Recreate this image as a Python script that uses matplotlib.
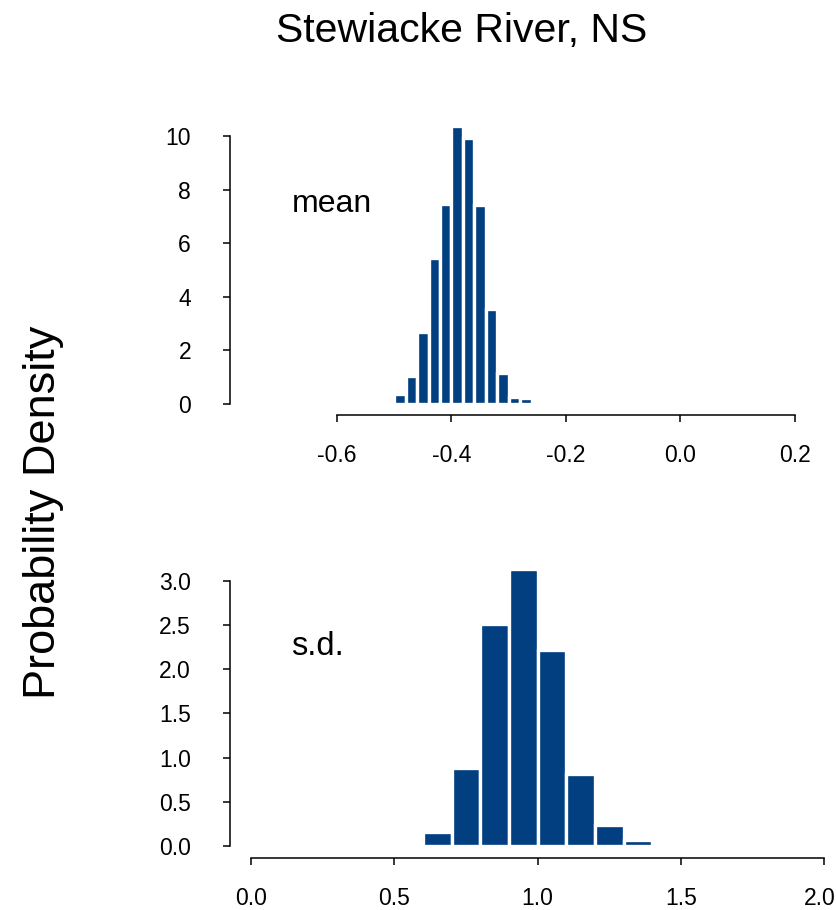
import numpy as np
import matplotlib
matplotlib.use('Agg')
import matplotlib.pyplot as plt
import matplotlib.transforms as mtransforms

plt.rcParams['font.family'] = ['Liberation Sans', 'DejaVu Sans']

# posterior density histograms
mean_bins = [-0.54, -0.52, -0.50, -0.48, -0.46, -0.44, -0.42, -0.40,
             -0.38, -0.36, -0.34, -0.32, -0.30, -0.28]
mean_dens = [0.03, 0.0, 0.37, 1.03, 2.70, 5.45, 7.47, 10.37,
             9.94, 7.43, 3.56, 1.17, 0.28, 0.22]
mean_bw = 0.02

sd_bins = [0.6, 0.7, 0.8, 0.9, 1.0, 1.1, 1.2, 1.3]
sd_dens = [0.158, 0.879, 2.507, 3.132, 2.221, 0.819, 0.237, 0.064]
sd_bw = 0.1

mean_xticks = [-0.6, -0.4, -0.2, 0.0, 0.2]
mean_yticks = [0, 2, 4, 6, 8, 10]
sd_xticks = [0.0, 0.5, 1.0, 1.5, 2.0]
sd_yticks = [0.0, 0.5, 1.0, 1.5, 2.0, 2.5, 3.0]

barcol = '#023f80'
W, H = 837, 910

fig = plt.figure(figsize=(W / 100, H / 100), dpi=100)

def px_axes(l, t, r, b):
    return fig.add_axes([l / W, 1 - b / H, (r - l) / W, (b - t) / H])

def style(ax, xb, yb, xpad):
    for s in ['top', 'right']:
        ax.spines[s].set_visible(False)
    ax.spines['left'].set_bounds(*yb)
    ax.spines['bottom'].set_bounds(*xb)
    for s in ['left', 'bottom']:
        ax.spines[s].set_linewidth(1.1)
    ax.tick_params(axis='y', length=5, width=1.1, labelsize=16.5, pad=23)
    ax.tick_params(axis='x', length=5, width=1.1, labelsize=16.5, pad=xpad)
    for lab in ax.get_yticklabels():
        lab.set_horizontalalignment('right')

# top panel: mean
ax1 = px_axes(230, 120, 810, 415)
ax1.bar(mean_bins, mean_dens, width=mean_bw, align='edge', color=barcol,
        edgecolor='white', linewidth=2.4)
ax1.set_xlim(-0.7867, 0.2262)
ax1.set_ylim(-0.41, 10.6)
ax1.set_xticks(mean_xticks)
ax1.set_xticklabels(['%.1f' % v for v in mean_xticks])
ax1.set_yticks(mean_yticks)
style(ax1, (-0.6, 0.2), (0, 10), 16)

# bottom panel: s.d.
ax2 = px_axes(230, 565, 837, 858)
ax2.bar(sd_bins, sd_dens, width=sd_bw, align='edge', color=barcol,
        edgecolor='white', linewidth=2.4)
ax2.set_xlim(-0.0745, 2.0455)
ax2.set_ylim(-0.136, 3.178)
ax2.set_xticks(sd_xticks)
ax2.set_xticklabels(['%.1f' % v for v in sd_xticks])
ax2.set_yticks(sd_yticks)
ax2.set_yticklabels(['%.1f' % v for v in sd_yticks])
style(ax2, (0, 2), (0, 3), 16)

# last label sits right at the edge, nudge it in a little
lab = ax2.get_xticklabels()[-1]
lab.set_transform(lab.get_transform() +
                  mtransforms.ScaledTranslation(-4 / 100, 0, fig.dpi_scale_trans))

fig.text(461.5 / W, 1 - 42 / H, 'Stewiacke River, NS', fontsize=29.5,
         ha='center', va='baseline')
fig.text(44 / W, 1 - 512 / H, 'Probability Density', fontsize=32.5,
         rotation=90, ha='center', va='center')
fig.text(292 / W, 1 - 211.7 / H, 'mean', fontsize=23, ha='left', va='baseline')
fig.text(291 / W, 1 - 655 / H, 's.d.', fontsize=23.5, ha='left', va='baseline')

fig.savefig('out.png', dpi=100)
